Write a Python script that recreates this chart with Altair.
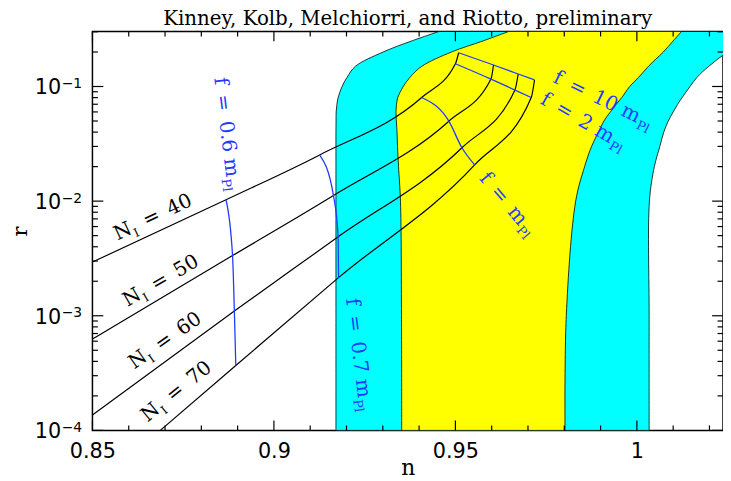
import json
import altair as alt
import pandas as pd

# ---------------- data ----------------
# likelihood contour boundaries (n at given r); last level is the top of the frame
r_levels = [1e-4, 1e-3, 0.01, 0.02, 0.03, 0.04, 0.05, 0.06, 0.07, 0.08,
            0.1, 0.12, 0.15, 0.2, 0.25, 0.302]
cyan_left = [0.91709, 0.91709, 0.91709, 0.91709, 0.91709, 0.91709,
             0.91712, 0.91715, 0.91736, 0.91769, 0.91878, 0.92014, 0.92246,
             0.9301, 0.93801, 0.9455]
yellow_left = [0.9352, 0.93515, 0.93487, 0.93433, 0.93405, 0.93392,
               0.93373, 0.93364, 0.93378, 0.93411, 0.93564, 0.93746, 0.94074,
               0.94892, 0.95764, 0.9647]
yellow_right = [0.9802, 0.98055, 0.98314, 0.9856, 0.98751, 0.98942,
                0.99092, 0.99269, 0.99433, 0.99583, 0.99801, 1.00047, 1.00319,
                1.00728, 1.01001, 1.0123]
cyan_right = [1.00338, 1.00338, 1.00346, 1.00482, 1.00633, 1.00742,
              1.00865, 1.01001, 1.01124, 1.01246, 1.01464, 1.01655, 1.01983,
              1.025, 1.0305, 1.0347]

# natural inflation predictions: per N, points at (edge, f=0.6, 0.7, 1, 2, 10 m_Pl)
N_values = [40, 50, 60, 70]
f_names = ["edge", "0.6", "0.7", "1", "2", "10"]
model_n = {
    40: [0.85, 0.8868, 0.9126, 0.9407, 0.9500, 0.9509],
    50: [0.85, 0.8886, 0.9164, 0.9482, 0.9598, 0.9605],
    60: [0.85, 0.8891, 0.9177, 0.9518, 0.9664, 0.9673],
    70: [0.8687, 0.8895, 0.9178, 0.9553, 0.9709, 0.9718],
}
model_r = {
    40: [0.00294, 0.01028, 0.0253, 0.0802, 0.158, 0.197],
    50: [0.000626, 0.00335, 0.0112, 0.0498, 0.116, 0.154],
    60: [0.000136, 0.0011, 0.00488, 0.0292, 0.0931, 0.1285],
    70: [0.0001, 0.000368, 0.00215, 0.0207, 0.0802, 0.114],
}

# annotation anchors
nlab_text = ["=\u200240", "=\u200250", "=\u200260", "=\u200270"]
nlab_n = [0.8612, 0.8638, 0.8654, 0.8689]
nlab_r = [0.00526, 0.00142, 0.000414, 0.000146]
nlab_angle = [-25, -30, -35, -39]

flab_text = ["f\u2002=\u20020.6 m", "f\u2002=\u20020.7 m", "f\u2002=\u2002m",
             "f\u2002=\u20022 m", "f\u2002=\u200210 m"]
flab_n = [0.8869, 0.9232, 0.9675, 0.9925, 0.9999]
flab_r = [0.0160, 0.000190, 0.00600, 0.0318, 0.0480]
flab_angle = [83, 83, 50, 30, 26]

title_text = "Kinney, Kolb, Melchiorri, and Riotto, preliminary"

# axes
x_major = [0.85, 0.9, 0.95, 1.0]
x_labels = ["0.85", "0.9", "0.95", "1"]
x_minor = [0.86, 0.87, 0.88, 0.89, 0.91, 0.92, 0.93, 0.94, 0.96, 0.97, 0.98,
           0.99, 1.01, 1.02]
y_major = [1e-4, 1e-3, 1e-2, 1e-1]
y_label_base = ["10", "10", "10", "10"]
y_label_exp = ["\u22124", "\u22123", "\u22122", "\u22121"]
y_minor = [2e-4, 3e-4, 4e-4, 5e-4, 6e-4, 7e-4, 8e-4, 9e-4,
           2e-3, 3e-3, 4e-3, 5e-3, 6e-3, 7e-3, 8e-3, 9e-3,
           2e-2, 3e-2, 4e-2, 5e-2, 6e-2, 7e-2, 8e-2, 9e-2,
           0.2, 0.3]

# ---------------- styling ----------------
W, H = 637, 403
CYAN, YELLOW, BLUE = "#00ffff", "#ffff00", "#1e3cff"
SERIF, SANS = "DejaVu Serif", "DejaVu Sans"

xscale = alt.Scale(domain=[0.85, 1.02373], nice=False, zero=False)
yscale = alt.Scale(type="log", domain=[1e-4, 0.302], nice=False)

x_expr = f"{json.dumps(x_labels)}[indexof({json.dumps(x_major)}, datum.value)]"

x_axis = alt.Axis(values=x_major, labelExpr=x_expr, ticks=False, tickSize=0,
                  domain=False, grid=False, labelFont=SANS, labelFontSize=21,
                  labelPadding=10, labelColor="black", labelFlush=False,
                  labelOverlap=False, title="n", titleFont=SERIF,
                  titleFontSize=22, titleFontWeight="normal",
                  titleBaseline="alphabetic", titleY=44.4, titleColor="black")
y_axis = alt.Axis(values=y_major, labels=False, ticks=False, tickSize=0,
                  domain=False, grid=False, title="r",
                  titleFont=SERIF, titleFontSize=21, titleFontWeight="normal",
                  titleAngle=270, titleBaseline="alphabetic", titleX=-67,
                  titleColor="black")


def X(field):
    return alt.X(field, scale=xscale, axis=x_axis, title="n")


def Y(field):
    return alt.Y(field, scale=yscale, axis=y_axis, title="r")


# ---------------- tables ----------------
bands = pd.DataFrame({"r": r_levels, "cl": cyan_left, "cr": cyan_right,
                      "yl": yellow_left, "yr": yellow_right})

rows = []
for N in N_values:
    for k, f in enumerate(f_names):
        rows.append({"N": N, "f": f, "k": k, "n": model_n[N][k],
                     "r": model_r[N][k]})
model = pd.DataFrame(rows)
model_f = model[model["f"] != "edge"]

nlab = pd.DataFrame({"n": nlab_n, "r": nlab_r, "rest": nlab_text,
                     "angle": [a % 360 for a in nlab_angle]})
nlab["main"] = "N"
nlab["sub"] = "I"
flab = pd.DataFrame({"n": flab_n, "r": flab_r, "main": flab_text,
                     "angle": [a % 360 for a in flab_angle]})
flab["sub"] = "Pl"

xt_major = pd.DataFrame({"v": x_major})
xt_minor = pd.DataFrame({"v": x_minor})
yt_major = pd.DataFrame({"v": y_major, "base": y_label_base,
                         "exp": y_label_exp})
yt_minor = pd.DataFrame({"v": y_minor})

# ---------------- layers ----------------
cyan = alt.Chart(bands).mark_area(
    orient="horizontal", color=CYAN, stroke="black", strokeWidth=0.8,
    clip=True, interpolate="catmull-rom"
).encode(y=Y("r:Q"), x=X("cl:Q"), x2="cr:Q")

yellow = alt.Chart(bands).mark_area(
    orient="horizontal", color=YELLOW, stroke="black", strokeWidth=0.8,
    clip=True, interpolate="catmull-rom"
).encode(y=Y("r:Q"), x=X("yl:Q"), x2="yr:Q")

n_lines = alt.Chart(model).mark_line(
    color="black", strokeWidth=1.2, clip=True, interpolate="monotone"
).encode(x=X("n:Q"), y=Y("r:Q"), detail="N:N", order="k:Q")

f_lines = alt.Chart(model_f).mark_line(
    color=BLUE, strokeWidth=1.3, clip=True, interpolate="monotone"
).encode(x=X("n:Q"), y=Y("r:Q"), detail="f:N", order="N:Q")

ang = alt.Angle("angle:Q", scale=None)
n_main = alt.Chart(nlab).mark_text(
    align="right", baseline="alphabetic", font=SERIF, fontSize=20,
    color="black").encode(x=X("n:Q"), y=Y("r:Q"), text="main:N", angle=ang)
n_sub = alt.Chart(nlab).mark_text(
    align="left", baseline="alphabetic", font=SERIF, fontSize=12, dx=1, dy=5,
    color="black").encode(x=X("n:Q"), y=Y("r:Q"), text="sub:N", angle=ang)
n_rest = alt.Chart(nlab).mark_text(
    align="left", baseline="alphabetic", font=SERIF, fontSize=20, dx=15,
    color="black").encode(x=X("n:Q"), y=Y("r:Q"), text="rest:N", angle=ang)

f_main = alt.Chart(flab).mark_text(
    align="right", baseline="alphabetic", font=SERIF, fontSize=20,
    color=BLUE).encode(x=X("n:Q"), y=Y("r:Q"), text="main:N", angle=ang)
f_sub = alt.Chart(flab).mark_text(
    align="left", baseline="alphabetic", font=SERIF, fontSize=13, dx=1, dy=5,
    color=BLUE).encode(x=X("n:Q"), y=Y("r:Q"), text="sub:N", angle=ang)

# y tick labels "10" with raised exponent
ylab_base = alt.Chart(yt_major).mark_text(
    align="right", baseline="alphabetic", font=SANS, fontSize=21, dy=8,
    color="black").encode(y=Y("v:Q"), x=alt.value(-31.5), text="base:N")
ylab_exp = alt.Chart(yt_major).mark_text(
    align="left", baseline="alphabetic", font=SANS, fontSize=14, dy=1.5,
    color="black").encode(y=Y("v:Q"), x=alt.value(-31), text="exp:N")


def xticks(df, length):
    bot = alt.Chart(df).mark_rule(color="black", strokeWidth=1.2).encode(
        x=X("v:Q"), y=alt.value(H), y2=alt.value(H - length))
    top = alt.Chart(df).mark_rule(color="black", strokeWidth=1.2).encode(
        x=X("v:Q"), y=alt.value(0), y2=alt.value(length))
    return [bot, top]


def yticks(df, length):
    left = alt.Chart(df).mark_rule(color="black", strokeWidth=1.2).encode(
        y=Y("v:Q"), x=alt.value(0), x2=alt.value(length))
    right = alt.Chart(df).mark_rule(color="black", strokeWidth=1.2).encode(
        y=Y("v:Q"), x=alt.value(W), x2=alt.value(W - length))
    return [left, right]


layers = ([cyan, yellow, n_lines, f_lines, n_main, n_sub, n_rest, f_main,
           f_sub, ylab_base, ylab_exp]
          + xticks(xt_major, 10) + xticks(xt_minor, 5)
          + yticks(yt_major[["v"]], 11) + yticks(yt_minor, 5.5))

chart = alt.layer(*layers).properties(
    width=W, height=H,
    title=alt.TitleParams(title_text, font=SERIF, fontSize=20,
                          fontWeight="normal", color="black", anchor="middle",
                          frame="group", baseline="alphabetic", offset=7,
                          dy=21),
    autosize=alt.AutoSizeParams(type="none"),
    padding={"left": 85.3, "top": 21.3, "right": 0, "bottom": 48},
    background="white",
).configure_view(stroke="black", strokeWidth=1.5)

chart.save("out.html", embed_options={"renderer": "svg", "actions": False})
